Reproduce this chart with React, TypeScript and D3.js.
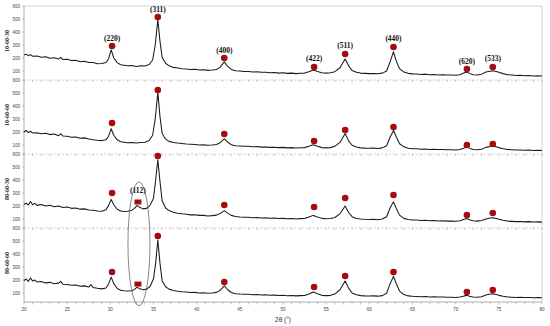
import React from "react";
import * as d3 from "d3";

const WIDTH = 550;
const HEIGHT = 326;
const LEFT = 24;
const RIGHT = 542;
const TOP = 6;
const PANEL_H = 74;
const RED = "#a30d0d";

const sampleNames = ["10-60-30", "10-60-60", "80-60-30", "80-60-60"];
const yTicks = [100, 200, 300, 400, 500, 600];
const xTicks = [20, 25, 30, 35, 40, 45, 50, 55, 60, 65, 70, 75, 80];

const peakLabels = ["(220)", "(311)", "(400)", "(422)", "(511)", "(440)", "(620)", "(533)"];
const peakPositions = [30.2, 35.5, 43.2, 53.6, 57.2, 62.8, 71.3, 74.3];

// marker heights, one row per sample
const markerHeights = [
  [292, 515, 200, 131, 231, 285, 115, 131],
  [269, 523, 185, 131, 215, 238, 100, 108],
  [300, 585, 208, 192, 262, 285, 131, 146],
  [262, 538, 185, 146, 231, 262, 108, 123],
];

// (112) reflection, only in the 80-60 samples
const extraPeak = 33.2;
const extraHeights = [null, null, 231, 169];

const s1030 = [[20,224],[20.25,230],[20.5,218],[20.75,226],[21,214],[21.5,216],[22,206],[22.5,210],[23,198],[23.5,202],[24,192],[24.25,205],[24.5,188],[25,190],[25.5,180],[26,183],[26.5,172],[27,175],[27.5,165],[28,166],[28.5,156],[29,158],[29.5,165],[29.8,195],[30.1,262],[30.4,200],[30.8,165],[31.2,148],[31.6,145],[32,140],[32.5,142],[33,134],[33.5,140],[34,138],[34.5,150],[34.9,185],[35.2,300],[35.5,495],[35.75,330],[36,205],[36.4,160],[36.8,140],[37.3,128],[37.8,124],[38.3,118],[38.8,116],[39.3,112],[39.8,114],[40.3,108],[40.8,110],[41.3,105],[41.8,108],[42.3,112],[42.7,128],[43.2,170],[43.6,135],[44,112],[44.5,102],[45,100],[45.5,96],[46,97],[46.5,92],[47,94],[47.5,90],[48,91],[48.5,87],[49,88],[49.5,84],[50,86],[50.5,82],[51,84],[51.5,80],[52,83],[52.5,84],[53,95],[53.5,108],[54,96],[54.5,86],[55,84],[55.5,86],[56,95],[56.6,125],[57.2,192],[57.6,140],[58,104],[58.5,90],[59,84],[59.5,82],[60,80],[60.5,81],[61,79],[61.5,84],[62,100],[62.4,170],[62.8,248],[63.1,180],[63.5,118],[64,92],[64.5,82],[65,78],[65.5,77],[66,74],[66.5,76],[67,72],[67.5,73],[68,70],[68.5,72],[69,69],[69.5,70],[70,68],[70.5,72],[71,86],[71.3,93],[71.6,82],[72,72],[72.5,70],[73,76],[73.5,92],[74,98],[74.3,102],[74.7,96],[75,90],[75.5,80],[76,72],[76.5,70],[77,66],[77.5,67],[78,64],[78.5,66],[79,62],[79.5,64],[80,62]];

const s1060 = [[20,200],[20.25,212],[20.5,195],[20.75,206],[21,192],[21.5,195],[22,186],[22.5,190],[23,180],[23.5,184],[24,172],[24.25,186],[24.5,170],[25,168],[25.5,160],[26,162],[26.5,152],[27,155],[27.5,146],[28,140],[28.5,136],[29,134],[29.5,140],[29.8,168],[30.1,225],[30.4,175],[30.8,140],[31.2,125],[31.6,122],[32,118],[32.5,120],[33,115],[33.5,120],[34,122],[34.5,135],[34.9,175],[35.2,300],[35.5,505],[35.75,320],[36,190],[36.4,145],[36.8,128],[37.3,120],[37.8,115],[38.3,112],[38.8,108],[39.3,106],[39.8,104],[40.3,100],[40.8,101],[41.3,98],[41.8,100],[42.3,104],[42.7,118],[43.2,148],[43.6,122],[44,102],[44.5,94],[45,92],[45.5,90],[46,90],[46.5,86],[47,88],[47.5,84],[48,85],[48.5,82],[49,83],[49.5,80],[50,82],[50.5,78],[51,80],[51.5,77],[52,79],[52.5,80],[53,90],[53.5,102],[54,90],[54.5,80],[55,78],[55.5,80],[56,90],[56.6,120],[57.2,188],[57.6,132],[58,98],[58.5,84],[59,78],[59.5,76],[60,75],[60.5,76],[61,74],[61.5,78],[62,95],[62.4,160],[62.8,212],[63.1,165],[63.5,110],[64,86],[64.5,76],[65,72],[65.5,71],[66,68],[66.5,70],[67,66],[67.5,67],[68,65],[68.5,66],[69,63],[69.5,64],[70,62],[70.5,66],[71,78],[71.3,86],[71.6,76],[72,66],[72.5,64],[73,68],[73.5,82],[74,88],[74.3,92],[74.7,86],[75,80],[75.5,72],[76,66],[76.5,64],[77,61],[77.5,62],[78,60],[78.5,61],[79,58],[79.5,60],[80,58]];

const s8030 = [[20,212],[20.25,222],[20.5,208],[20.75,235],[21,210],[21.25,220],[21.5,205],[22,212],[22.5,200],[23,206],[23.5,195],[24,200],[24.5,188],[25,192],[25.5,182],[26,185],[26.5,176],[27,178],[27.5,170],[28,168],[28.5,162],[29,160],[29.5,172],[29.8,205],[30.1,250],[30.4,210],[30.8,175],[31.2,162],[31.6,158],[32,160],[32.5,168],[32.8,182],[33.1,205],[33.4,190],[33.8,178],[34.2,182],[34.6,205],[35,260],[35.25,400],[35.5,555],[35.75,390],[36,240],[36.4,185],[36.8,165],[37.3,152],[37.8,145],[38.3,140],[38.8,136],[39.3,132],[39.8,133],[40.3,128],[40.8,128],[41.3,124],[41.8,126],[42.3,130],[42.7,142],[43.2,165],[43.6,145],[44,128],[44.5,120],[45,116],[45.5,114],[46,114],[46.5,110],[47,112],[47.5,108],[48,109],[48.5,106],[49,108],[49.5,104],[50,105],[50.5,102],[51,104],[51.5,100],[52,103],[52.5,104],[53,115],[53.5,128],[54,116],[54.5,105],[55,102],[55.5,104],[56,112],[56.6,140],[57.2,200],[57.6,150],[58,118],[58.5,104],[59,100],[59.5,98],[60,97],[60.5,98],[61,95],[61.5,100],[62,118],[62.4,185],[62.8,232],[63.1,185],[63.5,130],[64,105],[64.5,96],[65,92],[65.5,92],[66,89],[66.5,90],[67,87],[67.5,88],[68,85],[68.5,86],[69,84],[69.5,85],[70,83],[70.5,86],[71,98],[71.3,104],[71.6,95],[72,86],[72.5,84],[73,88],[73.5,100],[74,108],[74.3,110],[74.7,104],[75,98],[75.5,90],[76,84],[76.5,82],[77,80],[77.5,81],[78,78],[78.5,80],[79,77],[79.5,78],[80,76]];

const s8060 = [[20,195],[20.25,208],[20.5,190],[20.75,215],[21,192],[21.25,200],[21.5,185],[22,188],[22.5,178],[23,182],[23.5,172],[24,176],[24.25,190],[24.5,168],[25,166],[25.5,160],[26,162],[26.5,152],[27,155],[27.5,146],[27.75,165],[28,142],[28.5,136],[29,132],[29.5,138],[29.8,170],[30.1,222],[30.4,172],[30.8,135],[31.2,122],[31.6,118],[32,115],[32.5,118],[32.8,128],[33.1,145],[33.4,132],[33.8,125],[34.2,130],[34.6,150],[35,210],[35.25,330],[35.5,508],[35.75,330],[36,195],[36.4,148],[36.8,130],[37.3,120],[37.8,114],[38.3,110],[38.8,108],[39.3,104],[39.8,105],[40.3,100],[40.8,102],[41.3,98],[41.8,100],[42.3,105],[42.7,120],[43.2,155],[43.6,125],[44,104],[44.5,95],[45,92],[45.5,90],[46,91],[46.5,87],[47,88],[47.5,85],[48,86],[48.5,83],[49,84],[49.5,81],[50,83],[50.5,79],[51,81],[51.5,78],[52,80],[52.5,81],[53,92],[53.5,108],[54,94],[54.5,82],[55,80],[55.5,82],[56,92],[56.6,125],[57.2,192],[57.6,138],[58,100],[58.5,86],[59,80],[59.5,78],[60,77],[60.5,78],[61,76],[61.5,80],[62,98],[62.4,170],[62.8,228],[63.1,175],[63.5,115],[64,88],[64.5,78],[65,75],[65.5,74],[66,71],[66.5,73],[67,70],[67.5,71],[68,69],[68.5,70],[69,67],[69.5,68],[70,66],[70.5,70],[71,78],[71.3,82],[71.6,75],[72,70],[72.5,68],[73,72],[73.5,85],[74,92],[74.3,95],[74.7,88],[75,82],[75.5,75],[76,70],[76.5,68],[77,66],[77.5,67],[78,65],[78.5,66],[79,64],[79.5,66],[80,64]];

const patterns = [s1030, s1060, s8030, s8060];

const minorTicks = d3.range(20, 80.01, 1);

export default function App() {
  const x = d3.scaleLinear().domain([20, 80]).range([LEFT, RIGHT]);
  const serif = "'Liberation Serif', 'Times New Roman', serif";
  const sans = "'Liberation Sans', Arial, sans-serif";

  return (
    <svg
      width={WIDTH}
      height={HEIGHT}
      style={{ position: "absolute", left: 0, top: 0, background: "#fff" }}
    >
      {/* frame */}
      <line x1={LEFT} x2={RIGHT} y1={TOP} y2={TOP} stroke="#c8c8c8" strokeWidth={0.8} />
      <line x1={RIGHT} x2={RIGHT} y1={TOP} y2={TOP + 4 * PANEL_H} stroke="#c8c8c8" strokeWidth={0.8} />

      {patterns.map((data, i) => {
        const top = TOP + i * PANEL_H;
        const bottom = top + PANEL_H;
        const y = d3.scaleLinear().domain([31, 600]).range([bottom, top]);
        const line = d3
          .line<number[]>()
          .x((d) => x(d[0]))
          .y((d) => y(d[1]));
        const last = i === patterns.length - 1;
        return (
          <g key={sampleNames[i]}>
            {/* bottom axis of this panel */}
            <line
              x1={LEFT}
              x2={RIGHT}
              y1={bottom}
              y2={bottom}
              stroke={last ? "#9a9a9a" : "#c4c4c4"}
              strokeWidth={0.8}
              strokeDasharray={last ? undefined : "2.2,1.6"}
            />
            {minorTicks.map((t) => (
              <line
                key={t}
                x1={x(t)}
                x2={x(t)}
                y1={bottom}
                y2={bottom + (last ? 2.5 : 1.8)}
                stroke="#9a9a9a"
                strokeWidth={0.6}
              />
            ))}
            {/* y axis */}
            <line x1={LEFT} x2={LEFT} y1={top} y2={bottom} stroke="#9a9a9a" strokeWidth={0.8} />
            {yTicks.map((t) => (
              <g key={t}>
                <line x1={LEFT - 2} x2={LEFT} y1={y(t)} y2={y(t)} stroke="#9a9a9a" strokeWidth={0.6} />
                <text
                  x={LEFT - 4}
                  y={y(t) + 1.5}
                  textAnchor="end"
                  fontSize={4.5}
                  fontFamily={sans}
                  fill="#444"
                >
                  {t}
                </text>
              </g>
            ))}
            <text
              transform={`translate(9,${top + 35}) rotate(-90)`}
              textAnchor="middle"
              fontSize={6}
              fontWeight="bold"
              fontFamily={serif}
              fill="#222"
            >
              {sampleNames[i]}
            </text>

            {/* pattern */}
            <path d={line(data) ?? ""} fill="none" stroke="#1a1a1a" strokeWidth={1.05} strokeLinejoin="round" />

            {/* spinel reflections */}
            {peakPositions.map((p, k) => (
              <g key={p}>
                <circle cx={x(p)} cy={y(markerHeights[i][k])} r={3.3} fill={RED} />
                {i === 0 && (
                  <text
                    x={x(p)}
                    y={y(markerHeights[i][k]) - 5.5}
                    textAnchor="middle"
                    fontSize={7.5}
                    fontWeight="bold"
                    fontFamily={serif}
                    fill="#111"
                  >
                    {peakLabels[k]}
                  </text>
                )}
              </g>
            ))}
            {extraHeights[i] != null && (
              <g>
                <rect
                  x={x(extraPeak) - 3.5}
                  y={y(extraHeights[i] as number) - 2.5}
                  width={7}
                  height={5}
                  fill={RED}
                />
                {i === 2 && (
                  <text
                    x={x(extraPeak)}
                    y={y(extraHeights[i] as number) - 9}
                    textAnchor="middle"
                    fontSize={7.5}
                    fontWeight="bold"
                    fontFamily={serif}
                    fill="#111"
                  >
                    (112)
                  </text>
                )}
              </g>
            )}
          </g>
        );
      })}

      {/* ellipse round the (112) reflection */}
      <ellipse
        cx={x(extraPeak) + 1}
        cy={TOP + 3.2 * PANEL_H + 1}
        rx={11}
        ry={62}
        fill="none"
        stroke="#555"
        strokeWidth={0.7}
      />

      {/* bottom tick labels */}
      {xTicks.map((t) => (
        <text
          key={t}
          x={x(t)}
          y={TOP + 4 * PANEL_H + 9}
          textAnchor="middle"
          fontSize={4.5}
          fontFamily={sans}
          fill="#444"
        >
          {t}
        </text>
      ))}
      <text
        x={(LEFT + RIGHT) / 2}
        y={TOP + 4 * PANEL_H + 20}
        textAnchor="middle"
        fontSize={6.5}
        fontFamily={sans}
        fill="#333"
      >
        2θ (°)
      </text>
    </svg>
  );
}
